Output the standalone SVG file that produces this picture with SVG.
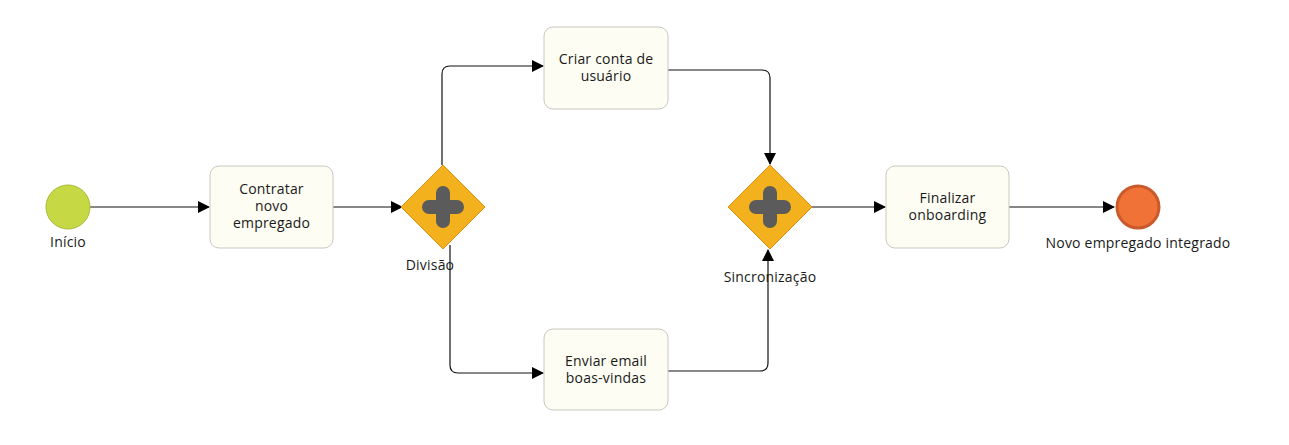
<svg xmlns="http://www.w3.org/2000/svg" width="1289" height="445" viewBox="0 0 1289 445">
<defs>
<style>
.task{fill:#fdfdf3;stroke:#c8c8c0;stroke-width:1}
.gw{fill:#f3b11d;stroke:#e0900e;stroke-width:1}
.plus{stroke:#5b5b5b;stroke-width:14;stroke-linecap:round;fill:none}
.lbl{font-family:"Open Sans",Lato,"Liberation Sans",sans-serif;font-size:14px;fill:#1a1a1a;text-anchor:middle;letter-spacing:0.2px}
.edge{fill:none;stroke:#111;stroke-width:1.2}
</style>
<marker id="arr" markerWidth="12" markerHeight="12" refX="11" refY="6" orient="auto" markerUnits="userSpaceOnUse">
<path d="M0,0 L12,6 L0,12 Z" fill="#000"/>
</marker>
</defs>
<g id="connectors">
<path class="edge" d="M90,207 H209" marker-end="url(#arr)"/>
<path class="edge" d="M333,207 H402" marker-end="url(#arr)"/>
<path class="edge" d="M442,165 V74 Q442,66 450,66 H543" marker-end="url(#arr)"/>
<path class="edge" d="M450,245 V365 Q450,373 458,373 H543" marker-end="url(#arr)"/>
<path class="edge" d="M668,70 H762 Q770,70 770,78 V164" marker-end="url(#arr)"/>
<path class="edge" d="M668,371 H760 Q768,371 768,363 V250" marker-end="url(#arr)"/>
<path class="edge" d="M812,207 H885" marker-end="url(#arr)"/>
<path class="edge" d="M1009,207 H1114" marker-end="url(#arr)"/>
</g>
<g id="start">
<circle cx="68" cy="207" r="22" fill="#c6d843" stroke="#a9bb36" stroke-width="1"/>
<text class="lbl" x="68" y="247">Início</text>
</g>
<g id="contratar">
<rect class="task" x="210" y="166" width="123" height="82" rx="9"/>
<text class="lbl" x="271.5" y="194">Contratar</text>
<text class="lbl" x="271.5" y="211">novo</text>
<text class="lbl" x="271.5" y="228">empregado</text>
</g>
<g id="divisao">
<path class="gw" d="M443,165 L485,207 L443,249 L401,207 Z"/>
<path class="plus" d="M429,207 H457 M443,193 V221"/>
<text class="lbl" x="430" y="270">Divisão</text>
</g>
<g id="criar">
<rect class="task" x="544" y="27" width="124" height="82" rx="9"/>
<text class="lbl" x="606" y="64">Criar conta de</text>
<text class="lbl" x="606" y="81">usuário</text>
</g>
<g id="enviar">
<rect class="task" x="544" y="329" width="124" height="81" rx="9"/>
<text class="lbl" x="606" y="366">Enviar email</text>
<text class="lbl" x="606" y="383">boas-vindas</text>
</g>
<g id="sincronizacao">
<path class="gw" d="M770,165 L812,207 L770,249 L728,207 Z"/>
<path class="plus" d="M756,207 H784 M770,193 V221"/>
<text class="lbl" x="770" y="282">Sincronização</text>
</g>
<g id="finalizar">
<rect class="task" x="886" y="166" width="123" height="82" rx="9"/>
<text class="lbl" x="947.5" y="203">Finalizar</text>
<text class="lbl" x="947.5" y="220">onboarding</text>
</g>
<g id="end">
<circle cx="1138" cy="207" r="21" fill="#f07236" stroke="#c95a2b" stroke-width="3"/>
<text class="lbl" x="1138" y="248">Novo empregado integrado</text>
</g>
</svg>
